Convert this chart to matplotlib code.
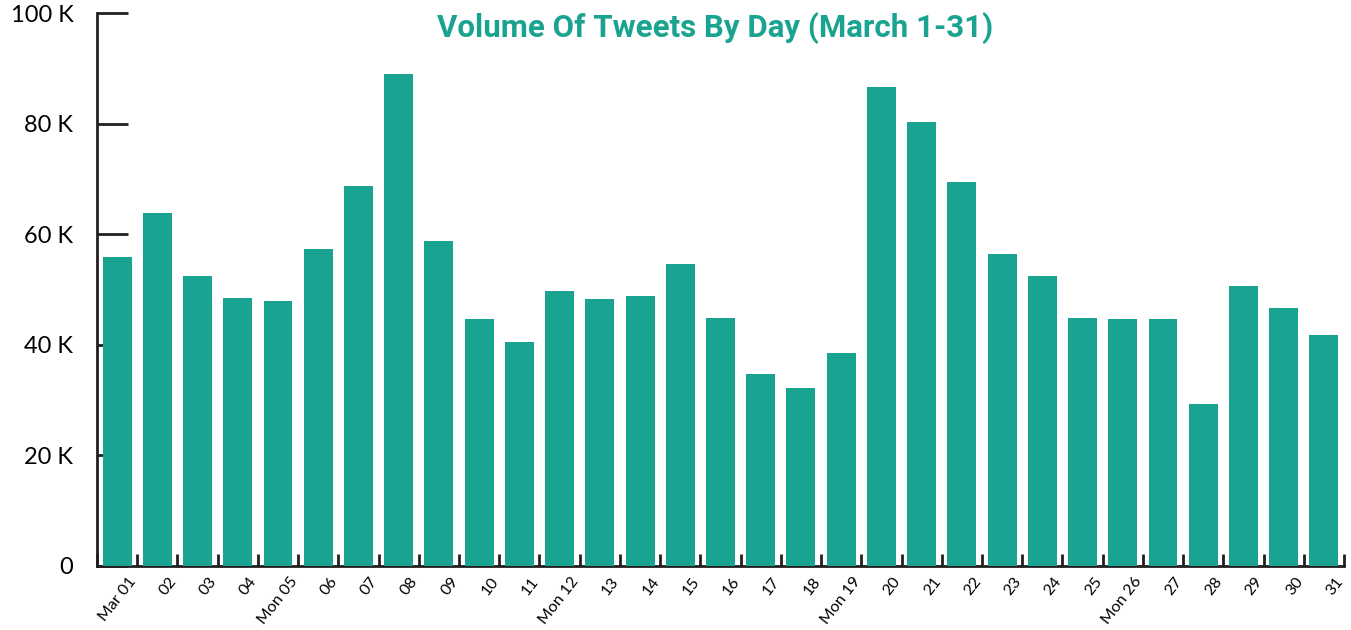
import matplotlib
matplotlib.use("Agg")
import matplotlib.pyplot as plt
from matplotlib.ticker import FixedLocator
from matplotlib.transforms import ScaledTranslation

days = ["Mar 01", "02", "03", "04", "Mon 05", "06", "07", "08", "09", "10",
        "11", "Mon 12", "13", "14", "15", "16", "17", "18", "Mon 19", "20",
        "21", "22", "23", "24", "25", "Mon 26", "27", "28", "29", "30", "31"]
tweets = [55900, 63800, 52400, 48500, 47900, 57300, 68700, 89000, 58800, 44700,
          40500, 49700, 48300, 48800, 54600, 44800, 34700, 32200, 38500, 86600,
          80300, 69400, 56400, 52400, 44800, 44700, 44700, 29300, 50600, 46700,
          41800]
y_ticks = [0, 20000, 40000, 60000, 80000, 100000]
y_labels = ["0", "20 K", "40 K", "60 K", "80 K", "100 K"]
title = "Volume Of Tweets By Day (March 1-31)"

bar_color = "#1aa390"
ink = "#231f20"

fig = plt.figure(figsize=(13.51, 6.30), dpi=100)
ax = fig.add_axes([97 / 1351, 1 - 566 / 630, 1247 / 1351, 553 / 630])

x = list(range(len(days)))
ax.bar(x, tweets, width=0.72, color=bar_color, zorder=3)

ax.set_xlim(-0.5, len(days) - 0.5)
ax.set_ylim(0, 100000)

for s in ["top", "right"]:
    ax.spines[s].set_visible(False)
for s in ["left", "bottom"]:
    ax.spines[s].set_color(ink)
    ax.spines[s].set_linewidth(2)

ax.set_yticks(y_ticks)
ax.set_yticklabels(y_labels)
ax.tick_params(axis="y", direction="in", length=22, width=2, color=ink,
               pad=17, labelsize=17, labelcolor="black")

ax.set_xticks(x)
ax.set_xticklabels(days, rotation=52, ha="right", rotation_mode="anchor")
ax.tick_params(axis="x", which="major", length=0, pad=6, labelsize=11.5)
ax.xaxis.set_minor_locator(FixedLocator([i - 0.5 for i in range(len(days) + 1)]))
ax.tick_params(axis="x", which="minor", direction="in", length=9, width=2,
               color=ink)

shift = ScaledTranslation(11 / 100, 0, fig.dpi_scale_trans)
for lab in ax.get_xticklabels():
    lab.set_family("Lato")
    lab.set_transform(lab.get_transform() + shift)
for lab in ax.get_yticklabels():
    lab.set_family("Lato")

fig.text(715 / 1351, 1 - 28 / 630, title, ha="center", va="center",
         fontsize=22.5, fontweight="bold", color=bar_color,
         family=["Roboto", "DejaVu Sans"])

fig.savefig("out.png", dpi=100)
